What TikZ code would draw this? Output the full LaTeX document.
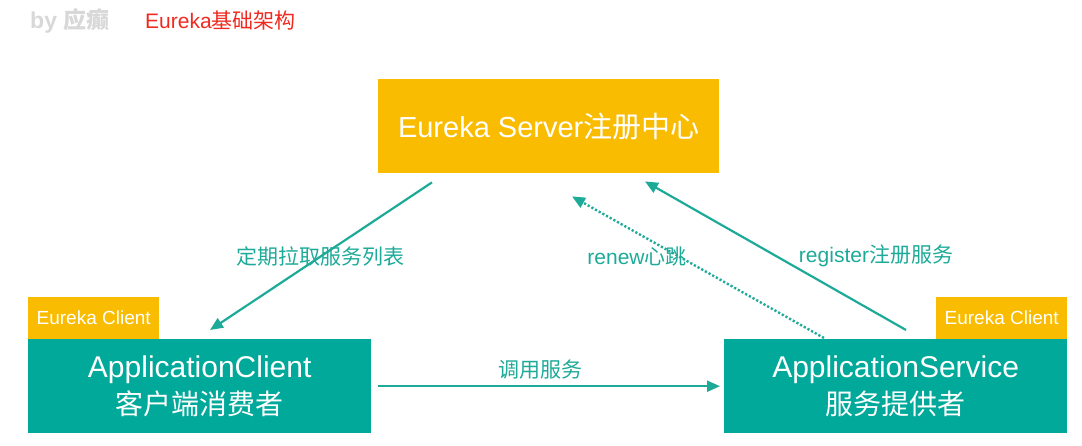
\documentclass[tikz,border=0pt]{standalone}
\usepackage{fontspec}
\setmainfont{Liberation Sans}
\newfontfamily\cjk{Noto Sans CJK SC}
\usetikzlibrary{arrows.meta,calc}
\definecolor{teal1}{HTML}{00A99A}
\definecolor{teal2}{HTML}{1EAA99}
\definecolor{gold}{HTML}{F9BC00}
\definecolor{ttlred}{HTML}{F02A20}
\definecolor{ltgray}{HTML}{D8D8D8}
\tikzset{
  srvbox/.style={fill=gold, draw=none, minimum width=341pt, minimum height=94pt, text=white, inner sep=0pt},
  appbox/.style={fill=teal1, draw=none, minimum width=343pt, minimum height=94pt, text=white, inner sep=0pt, align=center},
  tagbox/.style={fill=gold, draw=none, minimum width=131pt, minimum height=42pt, text=white, inner sep=0pt, font=\fontsize{19}{22}\selectfont},
  arr/.style={draw=teal2, line width=2.2pt, -{Triangle[length=13pt,width=11pt]}},
  lbl/.style={text=teal2, font=\fontsize{21}{24}\selectfont, inner sep=0pt},
}
\begin{document}
\begin{tikzpicture}[x=1pt,y=-1pt]
\useasboundingbox (0,0) rectangle (1082,445);
\node[anchor=west, text=ltgray, font=\fontsize{23}{25}\selectfont\bfseries, inner sep=0pt] (by) at (30,21) {by {\cjk 应癫}};
\node[anchor=west, text=ttlred, font=\fontsize{21}{24}\selectfont, inner sep=0pt] (ttl) at (145,21) {Eureka{\cjk 基础架构}};

\node[srvbox, anchor=north west, font=\fontsize{29}{32}\selectfont] (srv) at (378,79) {Eureka Server{\cjk 注册中心}};
\node[appbox, anchor=north west, font=\fontsize{30}{37}\selectfont] (cli) at (28,339) {ApplicationClient\\{\cjk\fontsize{28}{37}\selectfont 客户端消费者}};
\node[appbox, anchor=north west, font=\fontsize{30}{37}\selectfont] (svc) at (724,339) {ApplicationService\\{\cjk\fontsize{28}{37}\selectfont 服务提供者}};
\node[tagbox, anchor=south west] (tagl) at (cli.north west) {Eureka Client};
\node[tagbox, anchor=south east] (tagr) at (svc.north east) {Eureka Client};

\draw[arr] ($(srv.south west)+(54,9)$) -- ($(cli.north west)+(182,-9)$);
\draw[arr, dotted, line width=2.4pt] ($(svc.north west)+(100,-1)$) -- ($(srv.south west)+(194,23)$);
\draw[arr] ($(svc.north west)+(182,-9)$) -- ($(srv.south west)+(267,8)$);
\draw[arr] ($(cli.east)+(7,0)$) -- ($(svc.west)+(-4,0)$);

\node[lbl] (l1) at (320,256) {\cjk 定期拉取服务列表};
\node[lbl] (l2) at (637,257) {renew{\cjk 心跳}};
\node[lbl] (l3) at (876,256) {register{\cjk 注册服务}};
\node[lbl] (l4) at (540,370) {\cjk 调用服务};
\end{tikzpicture}
\end{document}
